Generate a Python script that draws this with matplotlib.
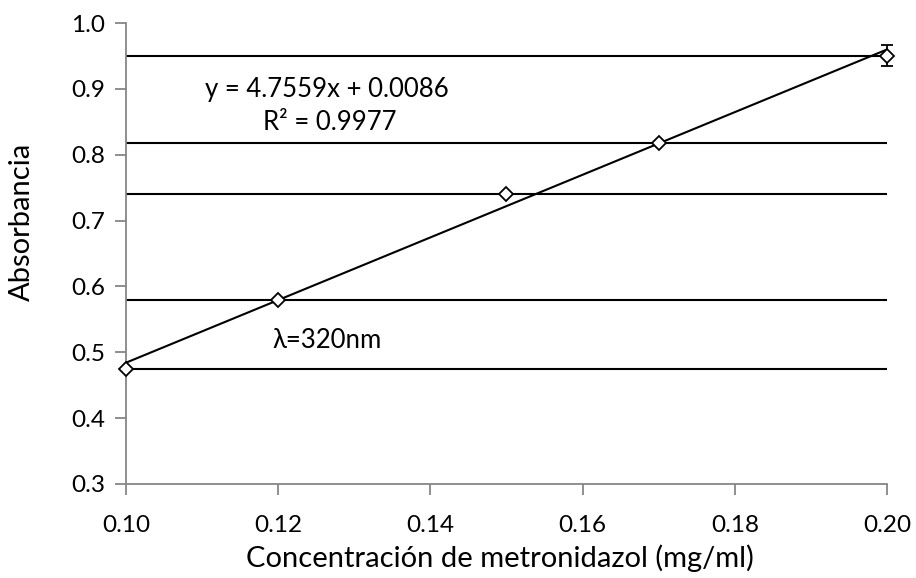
import matplotlib
matplotlib.use("Agg")
import matplotlib.pyplot as plt
import numpy as np

plt.rcParams['font.family'] = ['Lato', 'DejaVu Sans']

conc = [0.10, 0.12, 0.15, 0.17, 0.20]
absorb = [0.475, 0.580, 0.741, 0.818, 0.950]
yerr = [0.0, 0.0, 0.0, 0.0, 0.016]
slope = 4.7559
intercept = 0.0086
xticks = [0.10, 0.12, 0.14, 0.16, 0.18, 0.20]
yticks = [0.3, 0.4, 0.5, 0.6, 0.7, 0.8, 0.9, 1.0]

fig = plt.figure(figsize=(9.16, 5.78), dpi=100)
ax = fig.add_axes([126/916, 1-484/578, (887-126)/916, (484-23)/578])

# horizontal lines at each point level
ax.hlines(absorb, xticks[0], xticks[-1], colors='black', linewidth=1.5, zorder=2)

# trendline
xt = np.array([xticks[0], xticks[-1]])
ax.plot(xt, slope*xt + intercept, color='black', linewidth=1.5, zorder=3)

# points with error bars
ax.errorbar(conc, absorb, yerr=yerr, fmt='D', mfc='white', mec='black',
            mew=1.3, ms=7, ecolor='black', elinewidth=1.3, capsize=4, capthick=1.3,
            zorder=4, clip_on=False)

ax.set_xlim(0.10, 0.20)
ax.set_ylim(0.3, 1.0)
ax.set_xticks(xticks)
ax.set_yticks(yticks)
ax.set_xticklabels([f"{v:.2f}" for v in xticks])
ax.set_yticklabels([f"{v:.1f}" for v in yticks])

for s in ['top', 'right']:
    ax.spines[s].set_visible(False)
for s in ['left', 'bottom']:
    ax.spines[s].set_color('#868686')
    ax.spines[s].set_linewidth(1.3)
ax.tick_params(axis='both', direction='out', length=8, width=1.3, color='#868686',
               labelsize=17.5, labelcolor='black', pad=7)
ax.tick_params(axis='x', pad=14)

fig.text(500/916, 1-558/578, 'Concentración de metronidazol (mg/ml)',
         ha='center', va='center', fontsize=21)
fig.text(22/916, 1-222/578, 'Absorbancia', rotation=90,
         ha='center', va='center', fontsize=21)

fig.text(327/916, 1-90/578, 'y = 4.7559x + 0.0086',
         ha='center', va='center', fontsize=18.5)
fig.text(330/916, 1-123/578, 'R² = 0.9977',
         ha='center', va='center', fontsize=18.5)
fig.text(272/916, 1-340/578, 'λ=320nm',
         ha='left', va='center', fontsize=18.5)

fig.savefig('out.png', dpi=100)
